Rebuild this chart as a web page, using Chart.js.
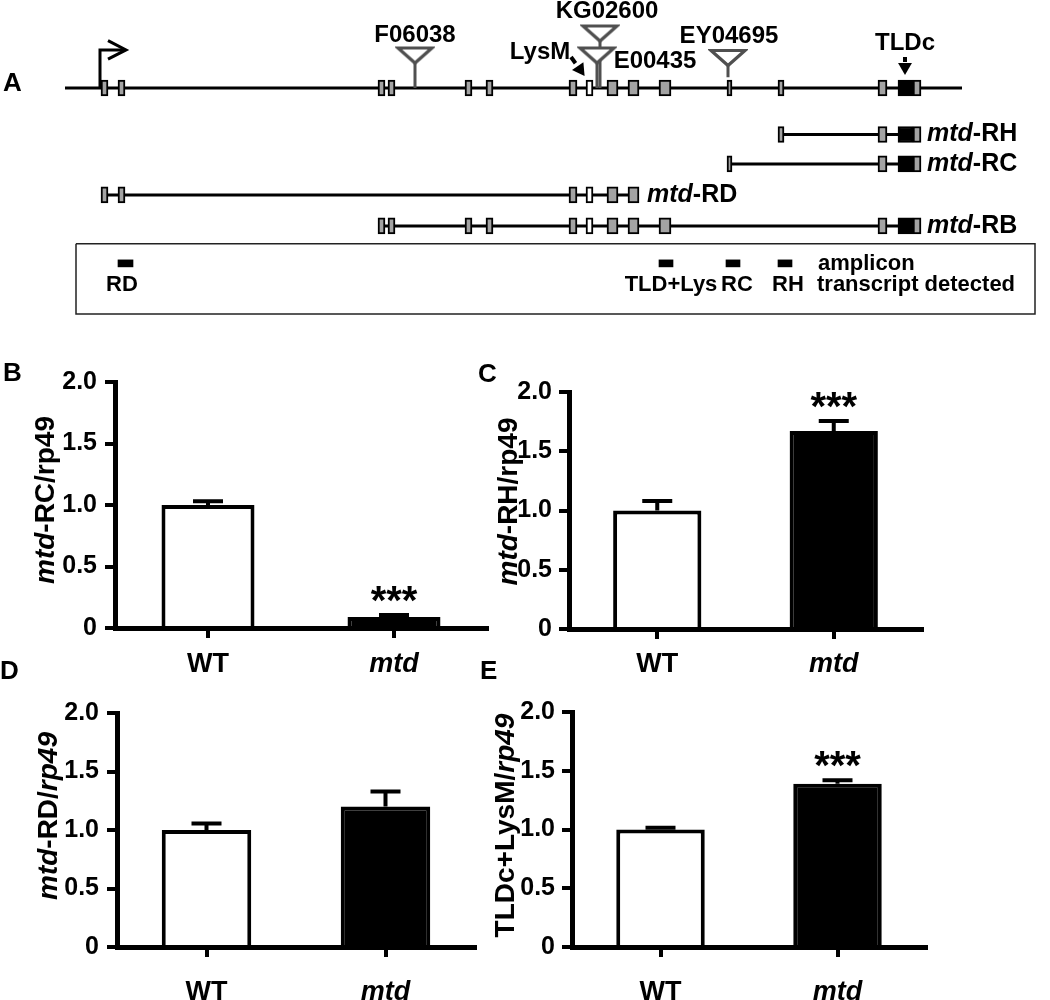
<!DOCTYPE html>
<html>
<head>
<meta charset="utf-8">
<script src="https://cdn.jsdelivr.net/npm/chart.js@4.4.1/dist/chart.umd.min.js"></script>
<style>
  html, body { margin: 0; padding: 0; background: #fff; }
  #fig { position: relative; width: 1050px; height: 1000px; overflow: hidden; }
  #fig canvas { position: absolute; }
  .panel { position: absolute; font: bold 26px "Liberation Sans", Arial, sans-serif; line-height: 26px; color: #000; }
</style>
</head>
<body>
<div id="fig">
  <canvas id="geneMap" width="1050" height="330" style="left:0;top:0"></canvas>
  <canvas id="chartB" width="500" height="360" style="left:0;top:330px"></canvas>
  <canvas id="chartC" width="580" height="360" style="left:465px;top:330px"></canvas>
  <canvas id="chartD" width="500" height="310" style="left:0;top:690px"></canvas>
  <canvas id="chartE" width="580" height="310" style="left:465px;top:690px"></canvas>
  <div class="panel" style="left:3px;top:69px">A</div>
  <div class="panel" style="left:3px;top:359px">B</div>
  <div class="panel" style="left:478px;top:360px">C</div>
  <div class="panel" style="left:0px;top:657px">D</div>
  <div class="panel" style="left:480px;top:657px">E</div>
</div>
<script>
const FONT = '"Liberation Sans", Arial, Helvetica, sans-serif';

// ---- panel A: mtd locus, positions in kb from the left end of the drawn region ----
const exonStart = [1.80, 2.65, 15.65, 16.15, 20.00, 21.05, 25.20, 26.05, 27.10, 28.15, 29.70, 33.10, 35.65, 40.65, 41.65, 42.40];
const exonEnd   = [2.15, 3.00, 16.00, 16.50, 20.35, 21.40, 25.60, 26.40, 27.65, 28.70, 30.30, 33.35, 35.95, 41.10, 42.40, 42.80];
const exonKind  = ['g', 'g', 'g', 'g', 'g', 'g', 'g', 'w', 'g', 'g', 'g', 'g', 'g', 'g', 'k', 'g'];
const locusLength = 44.85;

// track 0 is the genomic locus, then the transcripts
const trackNames = ['locus', 'RH', 'RC', 'RD', 'RB'];
const trackRow = [0, 1.5, 2.45, 3.45, 4.45];
const trackExons = [
  [0, 1, 2, 3, 4, 5, 6, 7, 8, 9, 10, 11, 12, 13, 14, 15],
  [12, 13, 14, 15],
  [11, 13, 14, 15],
  [0, 1, 6, 7, 8, 9],
  [2, 3, 4, 5, 6, 7, 8, 9, 10, 13, 14, 15]
];
const trackLabelPos = [null, 43.1, 43.1, 29.1, 43.1];

// transposon insertions
const insertNames = ['F06038', 'KG02600', 'E00435', 'EY04695'];
const insertPos = [17.5, 26.75, 26.6, 33.15];
const insertRow = [-1.05, -1.76, -1.05, -0.97];
const insertStemEnd = [0, 0, 0, -0.35];
const insertLabelPos = [17.5, 27.1, 29.5, 33.2];
const insertLabelRow = [-1.71, -2.48, -0.87, -1.65];

// protein domains
const domainNames = ['LysM', 'TLDc'];
const domainLabelPos = [23.75, 42.0];
const domainLabelRow = [-1.16, -1.45];
const domainTailX = [25.3, 42.0];
const domainTailY = [-1.0, -1.0];
const domainHeadX = [25.75, 42.0];
const domainHeadY = [-0.6, -0.68];
const domainHeadAngle = [145, 180];

// transcription start
const tssPos = 1.75;
const tssRow = -1.23;

// qPCR amplicons
const ampliconNames = ['RD', 'TLD+Lys', 'RC', 'RH'];
const ampliconStart = [2.65, 29.70, 33.05, 35.65];
const ampliconEnd = [3.40, 30.40, 33.75, 36.35];
const ampliconLabelPos = [2.85, 30.3, 33.6, 36.15];
const ampliconRow = 5.66;
const ampliconLabelRow = 6.37;
const boxLeft = 0.55, boxRight = 48.5, boxTop = 5.03, boxBottom = 7.29;

// ---- panels B-E: relative expression (mean, SEM) ----
const genotypes = ['WT', 'mtd'];
const rcMean = [1.00, 0.09];
const rcSem = [0.03, 0.015];
const rcStars = ['', '***'];
const rhMean = [1.00, 1.67];
const rhSem = [0.08, 0.085];
const rhStars = ['', '***'];
const rdMean = [1.00, 1.20];
const rdSem = [0.055, 0.13];
const rdStars = ['', ''];
const tlMean = [1.00, 1.39];
const tlSem = [0.015, 0.03];
const tlStars = ['', '***'];

const exonColor = { g: '#a3a3a3', w: '#ffffff', k: '#000000' };
const TRANSPOSON = '#505050';

function drawRich(ctx, parts, x, y, align, size) {
  const fonts = parts.map(p => (p[1] ? 'italic ' : '') + 'bold ' + size + 'px ' + FONT);
  let w = 0;
  parts.forEach((p, i) => { ctx.font = fonts[i]; w += ctx.measureText(p[0]).width; });
  let cx = align === 'center' ? x - w / 2 : align === 'right' ? x - w : x;
  ctx.textAlign = 'left';
  parts.forEach((p, i) => {
    ctx.font = fonts[i];
    ctx.fillText(p[0], cx, y);
    cx += ctx.measureText(p[0]).width;
  });
}

// inverted triangle used as the transposon marker
const triImg = document.createElement('canvas');
triImg.width = 40; triImg.height = 20;
(function () {
  const c = triImg.getContext('2d');
  c.beginPath();
  c.moveTo(3, 2.5); c.lineTo(37, 2.5); c.lineTo(20, 17.5); c.closePath();
  c.fillStyle = '#fff'; c.fill();
  c.lineWidth = 3.2; c.strokeStyle = TRANSPOSON; c.lineJoin = 'miter'; c.stroke();
})();

const geneText = {
  id: 'geneText',
  afterDatasetsDraw(chart) {
    const { ctx, scales: { x, y } } = chart;
    ctx.save();
    ctx.fillStyle = '#000';
    ctx.textBaseline = 'middle';
    ctx.textAlign = 'center';
    ctx.font = 'bold 24px ' + FONT;
    insertNames.forEach((n, i) => ctx.fillText(n, x.getPixelForValue(insertLabelPos[i]), y.getPixelForValue(insertLabelRow[i])));
    domainNames.forEach((n, i) => ctx.fillText(n, x.getPixelForValue(domainLabelPos[i]), y.getPixelForValue(domainLabelRow[i])));
    trackNames.forEach((n, t) => {
      if (trackLabelPos[t] === null) return;
      drawRich(ctx, [['mtd', true], ['-' + n, false]], x.getPixelForValue(trackLabelPos[t]), y.getPixelForValue(trackRow[t]), 'left', 25);
    });
    ctx.font = 'bold 22px ' + FONT;
    ctx.textAlign = 'center';
    ampliconNames.forEach((n, i) => ctx.fillText(n, x.getPixelForValue(ampliconLabelPos[i]), y.getPixelForValue(ampliconLabelRow)));
    ctx.textAlign = 'left';
    ctx.fillText('amplicon', x.getPixelForValue(37.65), y.getPixelForValue(ampliconRow + 0.02));
    ctx.fillText('transcript detected', x.getPixelForValue(37.6), y.getPixelForValue(ampliconLabelRow));
    ctx.restore();
  }
};

const geneDatasets = [];
// intron / locus lines
trackExons.forEach((idx, t) => {
  const a = t === 0 ? 0 : exonStart[idx[0]];
  const b = t === 0 ? locusLength : exonEnd[idx[idx.length - 1]];
  geneDatasets.push({ type: 'line', order: 3, data: [{ x: a, y: trackRow[t] }, { x: b, y: trackRow[t] }],
    borderColor: '#000', borderWidth: 3, pointRadius: 0, borderCapStyle: 'butt' });
});
// exons
trackExons.forEach((idx, t) => {
  geneDatasets.push({ type: 'bar', indexAxis: 'y', grouped: false, order: 1, barThickness: 16,
    data: idx.map(i => ({ x: [exonStart[i], exonEnd[i]], y: trackRow[t] })),
    backgroundColor: idx.map(i => exonColor[exonKind[i]]),
    borderColor: '#000', borderWidth: 2, borderSkipped: false });
});
// transposon stems and heads
insertNames.forEach((n, i) => {
  geneDatasets.push({ type: 'line', order: 2, data: [{ x: insertPos[i], y: insertRow[i] + 0.24 }, { x: insertPos[i], y: insertStemEnd[i] }],
    borderColor: TRANSPOSON, borderWidth: 3, pointRadius: 0, borderCapStyle: 'butt' });
});
geneDatasets.push({ type: 'scatter', order: 0, data: insertPos.map((p, i) => ({ x: p, y: insertRow[i] })),
  pointStyle: triImg, pointRadius: 10 });
// domain arrows
domainNames.forEach((n, i) => {
  geneDatasets.push({ type: 'line', order: 0, data: [{ x: domainTailX[i], y: domainTailY[i] }, { x: (domainTailX[i] + domainHeadX[i]) / 2, y: (domainTailY[i] + domainHeadY[i]) / 2 }],
    borderColor: '#000', borderWidth: 4, pointRadius: 0, borderCapStyle: 'butt' });
});
geneDatasets.push({ type: 'scatter', order: 0, data: domainHeadX.map((p, i) => ({ x: p, y: domainHeadY[i] })),
  pointStyle: 'triangle', pointRadius: 8, pointRotation: domainHeadAngle, backgroundColor: '#000', borderWidth: 0 });
// transcription start arrow
geneDatasets.push({ type: 'line', order: 0, data: [{ x: tssPos, y: 0 }, { x: tssPos, y: tssRow }, { x: tssPos + 1.25, y: tssRow }],
  borderColor: '#000', borderWidth: 3, pointRadius: 0, borderJoinStyle: 'miter' });
geneDatasets.push({ type: 'line', order: 0, data: [{ x: tssPos + 0.4, y: tssRow - 0.3 }, { x: tssPos + 1.3, y: tssRow }, { x: tssPos + 0.4, y: tssRow + 0.3 }],
  borderColor: '#000', borderWidth: 3, pointRadius: 0, borderJoinStyle: 'miter' });
// amplicon box and amplicons
geneDatasets.push({ type: 'line', order: 3, data: [{ x: boxLeft, y: boxTop }, { x: boxRight, y: boxTop }, { x: boxRight, y: boxBottom }, { x: boxLeft, y: boxBottom }, { x: boxLeft, y: boxTop }],
  borderColor: '#222', borderWidth: 1.5, pointRadius: 0, borderJoinStyle: 'miter' });
geneDatasets.push({ type: 'bar', indexAxis: 'y', grouped: false, order: 1, barThickness: 7,
  data: ampliconStart.map((s, i) => ({ x: [s, ampliconEnd[i]], y: ampliconRow })),
  backgroundColor: '#000', borderWidth: 0 });

new Chart(document.getElementById('geneMap'), {
  type: 'scatter',
  data: { datasets: geneDatasets },
  options: {
    responsive: false, animation: false, devicePixelRatio: 1,
    layout: { padding: 0, autoPadding: false },
    plugins: { legend: { display: false }, tooltip: { enabled: false } },
    scales: {
      x: { type: 'linear', min: -3.25, max: 49.25, display: false, offset: false },
      y: { type: 'linear', min: -2.84, max: 7.81, reverse: true, display: false, offset: false }
    }
  },
  plugins: [geneText]
});

// ---- bar panels ----
const errorBars = {
  id: 'errorBars',
  afterDatasetsDraw(chart) {
    const ds = chart.data.datasets[0];
    const meta = chart.getDatasetMeta(0);
    const ys = chart.scales.y;
    const ctx = chart.ctx;
    ctx.save();
    ctx.strokeStyle = '#000';
    ctx.fillStyle = '#000';
    ctx.lineWidth = 4;
    meta.data.forEach((bar, i) => {
      const base = ys.getPixelForValue(ds.data[i]);
      const top = ys.getPixelForValue(ds.data[i] + ds.errors[i]);
      ctx.beginPath();
      ctx.moveTo(bar.x, base); ctx.lineTo(bar.x, top);
      ctx.moveTo(bar.x - 15, top); ctx.lineTo(bar.x + 15, top);
      ctx.stroke();
      if (ds.stars[i]) {
        ctx.font = 'bold 40px ' + FONT;
        ctx.textAlign = 'center';
        ctx.textBaseline = 'alphabetic';
        const m = ctx.measureText(ds.stars[i]);
        ctx.fillText(ds.stars[i], bar.x, top - 13 - m.actualBoundingBoxDescent);
      }
    });
    ctx.restore();
  }
};

const yTitle = {
  id: 'yTitle',
  afterDraw(chart, args, opts) {
    const { ctx, chartArea } = chart;
    ctx.save();
    ctx.translate(chartArea.left - opts.offset, (chartArea.top + chartArea.bottom) / 2 + opts.shift);
    ctx.rotate(-Math.PI / 2);
    ctx.fillStyle = '#000';
    ctx.textBaseline = 'middle';
    drawRich(ctx, opts.parts, 0, 0, 'center', 28);
    ctx.restore();
  }
};

function barPanel(id, mean, sem, stars, title, g) {
  return new Chart(document.getElementById(id), {
    type: 'bar',
    data: {
      labels: genotypes,
      datasets: [{
        data: mean, errors: sem, stars: stars,
        backgroundColor: ['#ffffff', '#000000'], borderColor: '#000', borderWidth: 4,
        borderSkipped: 'bottom', categoryPercentage: 0.5, barPercentage: 1
      }]
    },
    options: {
      responsive: false, animation: false, devicePixelRatio: 1,
      layout: { padding: { top: g.top, right: g.right, left: 0, bottom: 0 } },
      plugins: {
        legend: { display: false }, tooltip: { enabled: false },
        yTitle: { parts: title, offset: g.titleOffset, shift: g.titleShift }
      },
      scales: {
        x: {
          grid: { offset: false, drawOnChartArea: false, drawTicks: true, tickLength: 10, lineWidth: 4, color: '#000' },
          border: { display: true, width: 5, color: '#000' },
          ticks: {
            color: '#000', padding: g.labelPad,
            font: c => ({ family: FONT, size: 27, weight: 'bold', style: c.index === 1 ? 'italic' : 'normal' })
          },
          afterFit: s => { s.height = g.xh; }
        },
        y: {
          min: 0, max: 2,
          grid: { drawOnChartArea: false, drawTicks: true, tickLength: 10, lineWidth: 4, color: '#000' },
          border: { display: true, width: 5, color: '#000' },
          ticks: {
            stepSize: 0.5, color: '#000', padding: g.tickPad,
            font: { family: FONT, size: 25, weight: 'bold' },
            callback: v => v === 0 ? '0' : v.toFixed(1)
          },
          afterFit: s => { s.width = g.yw; }
        }
      }
    },
    plugins: [errorBars, yTitle]
  });
}

barPanel('chartB', rcMean, rcSem, rcStars, [['mtd', true], ['-RC/rp49', false]],
  { top: 52, right: 13, xh: 62, yw: 115, labelPad: 10, tickPad: 8, titleOffset: 69, titleShift: -5 });
barPanel('chartC', rhMean, rhSem, rhStars, [['mtd', true], ['-RH/rp49', false]],
  { top: 62, right: 123, xh: 61, yw: 104, labelPad: 9, tickPad: 7, titleOffset: 60, titleShift: -9 });
barPanel('chartD', rdMean, rdSem, rdStars, [['mtd', true], ['-RD/', false], ['rp49', true]],
  { top: 20, right: 25, xh: 53, yw: 117, labelPad: 19, tickPad: 8, titleOffset: 68, titleShift: -14 });
barPanel('chartE', tlMean, tlSem, tlStars, [['TLDc+LysM/', false], ['rp49', true]],
  { top: 22, right: 119, xh: 53, yw: 107, labelPad: 19, tickPad: 7, titleOffset: 66, titleShift: -4 });
</script>
</body>
</html>
